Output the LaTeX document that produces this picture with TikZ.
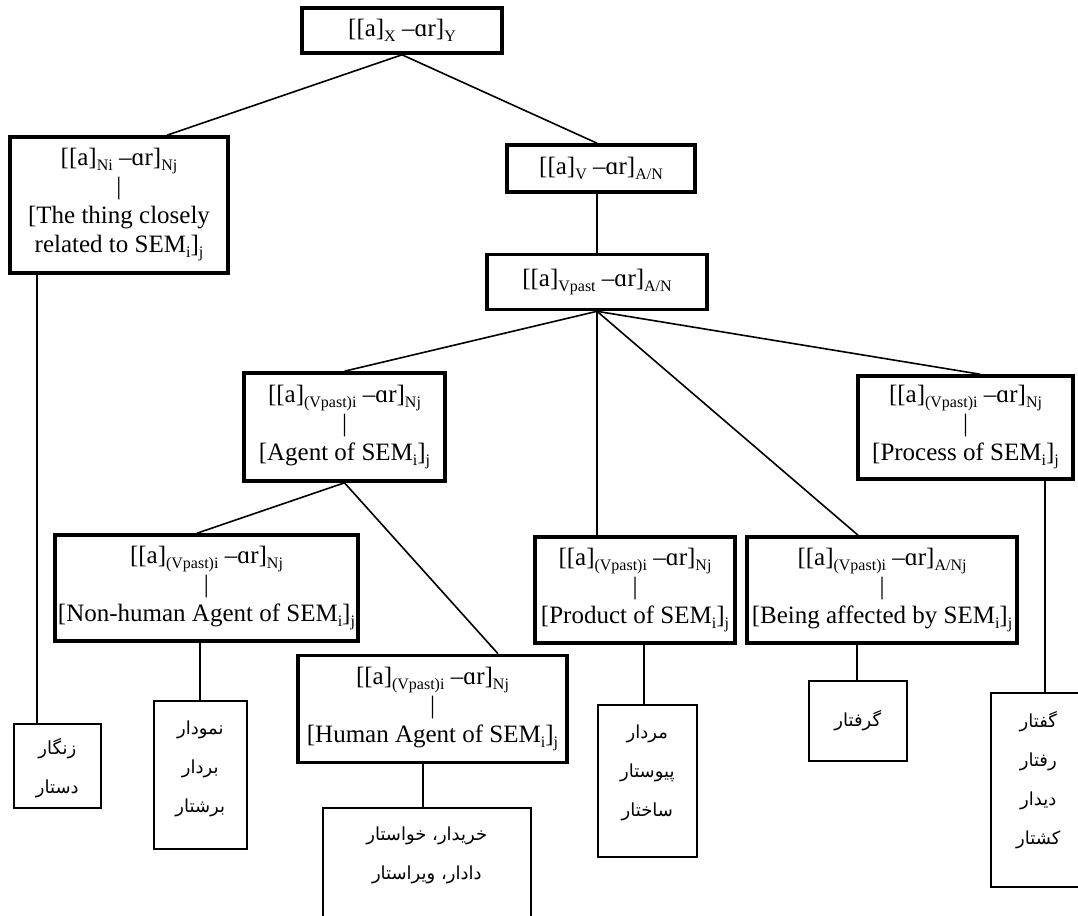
\documentclass[tikz,border=0pt]{standalone}
\usepackage{fontspec}
\setmainfont{Liberation Serif}
\newfontfamily\arabicfont[Script=Arabic]{DejaVu Sans}
\TeXXeTstate=1
\newcommand\sbs[1]{\raisebox{-0.2em}{\fontsize{16}{16}\selectfont #1}}
\newcommand\leafbody[4]{\parbox[c][#1][t]{#2}{\centering\arabicfont\fontsize{18}{39}\selectfont\vspace*{#3}#4}}
\newcommand\fl[1]{\rule{0pt}{16pt}\beginR #1\endR}
\newcommand\nl[1]{\beginR #1\endR}
\tikzset{
  mbox/.style={draw, line width=3.6pt, align=center, inner xsep=3pt, inner ysep=2pt, font=\fontsize{25}{29}\selectfont},
  leaf/.style={draw, line width=1.6pt, inner sep=0pt, anchor=north west},
  conn/.style={line width=1.6pt}
}
\begin{document}
\begin{tikzpicture}[x=1pt,y=-1pt]
\useasboundingbox (0,0) rectangle (1078,915);
% main boxes
\node[mbox, minimum width=200pt, minimum height=45pt] (top) at (402,30.5) {[[a]\sbs{X} –ɑr]\sbs{Y}};
\node[mbox, minimum width=218pt, minimum height=136pt] (b1) at (119,205) {[[a]\sbs{Ni} –ɑr]\sbs{Nj}\\|\\\relax[The thing closely\\related to SEM\sbs{i}]\sbs{j}};
\node[mbox, minimum width=188pt, minimum height=47pt] (bv) at (601,168.5) {[[a]\sbs{V} –ɑr]\sbs{A/N}};
\node[mbox, minimum width=220pt, minimum height=55pt] (bvp) at (597,282) {[[a]\sbs{Vpast} –ɑr]\sbs{A/N}};
\node[mbox, minimum width=201pt, minimum height=108pt] (agent) at (344.5,427) {[[a]\sbs{(Vpast)i} –ɑr]\sbs{Nj}\\|\\\relax[Agent of SEM\sbs{i}]\sbs{j}};
\node[mbox, minimum width=215pt, minimum height=103pt] (proc) at (965.5,427.5) {[[a]\sbs{(Vpast)i} –ɑr]\sbs{Nj}\\|\\\relax[Process of SEM\sbs{i}]\sbs{j}};
\node[mbox, minimum width=303pt, minimum height=106pt] (nh) at (206.5,588) {[[a]\sbs{(Vpast)i} –ɑr]\sbs{Nj}\\|\\\relax[Non-human Agent of SEM\sbs{i}]\sbs{j}};
\node[mbox, minimum width=200pt, minimum height=106pt] (prod) at (635,590) {[[a]\sbs{(Vpast)i} –ɑr]\sbs{Nj}\\|\\\relax[Product of SEM\sbs{i}]\sbs{j}};
\node[mbox, minimum width=270pt, minimum height=106pt] (being) at (882,590) {[[a]\sbs{(Vpast)i} –ɑr]\sbs{A/Nj}\\|\\\relax[Being affected by SEM\sbs{i}]\sbs{j}};
\node[mbox, minimum width=269pt, minimum height=107pt] (human) at (432.5,709) {[[a]\sbs{(Vpast)i} –ɑr]\sbs{Nj}\\|\\\relax[Human Agent of SEM\sbs{i}]\sbs{j}};
% leaf boxes
\node[leaf] (lA) at (13,723) {\leafbody{84pt}{87pt}{15pt}{\fl{زنگار}\\\nl{دستار}}};
\node[leaf] (lB) at (153,700) {\leafbody{148pt}{93pt}{18pt}{\fl{نمودار}\\\nl{بردار}\\\nl{برشتار}}};
\node[leaf] (lC) at (322,807) {\leafbody{140pt}{208pt}{17pt}{\fl{خریدار، خواستار}\\\nl{دادار، ویراستار}}};
\node[leaf] (lD) at (597,704) {\leafbody{152pt}{99pt}{18pt}{\fl{مردار}\\\nl{پیوستار}\\\nl{ساختار}}};
\node[leaf] (lE) at (808,680) {\leafbody{80pt}{98pt}{30pt}{\fl{گرفتار}}};
\node[leaf] (lF) at (990,692) {\leafbody{194pt}{95pt}{19pt}{\fl{گفتار}\\\nl{رفتار}\\\nl{دیدار}\\\nl{کشتار}}};
% x positions of connector ends
\coordinate (xb1) at (167,0);
\coordinate (xnh) at (197,0);
\coordinate (xhum) at (498,0);
\coordinate (xbeing) at (858,0);
\coordinate (xproc) at (980,0);
\coordinate (xA) at (37,0);
\coordinate (xB) at (200,0);
\coordinate (xC) at (423,0);
\coordinate (xD) at (644,0);
\coordinate (xE) at (857,0);
\coordinate (xF) at (1045,0);
% connectors
\draw[conn] (top.south) -- (b1.north -| xb1);
\draw[conn] (top.south) -- (bv.north -| bvp.north);
\draw[conn] (bv.south -| bvp.north) -- (bvp.north);
\draw[conn] (bvp.south) -- (agent.north);
\draw[conn] (bvp.south) -- (bvp.south |- prod.north);
\draw[conn] (bvp.south) -- (being.north -| xbeing);
\draw[conn] (bvp.south) -- (proc.north -| xproc);
\draw[conn] (agent.south) -- (nh.north -| xnh);
\draw[conn] (agent.south) -- (human.north -| xhum);
\draw[conn] (b1.south -| xA) -- (lA.north -| xA);
\draw[conn] (nh.south -| xB) -- (lB.north -| xB);
\draw[conn] (human.south -| xC) -- (lC.north -| xC);
\draw[conn] (prod.south -| xD) -- (lD.north -| xD);
\draw[conn] (being.south -| xE) -- (lE.north -| xE);
\draw[conn] (proc.south -| xF) -- (lF.north -| xF);
\end{tikzpicture}
\end{document}
